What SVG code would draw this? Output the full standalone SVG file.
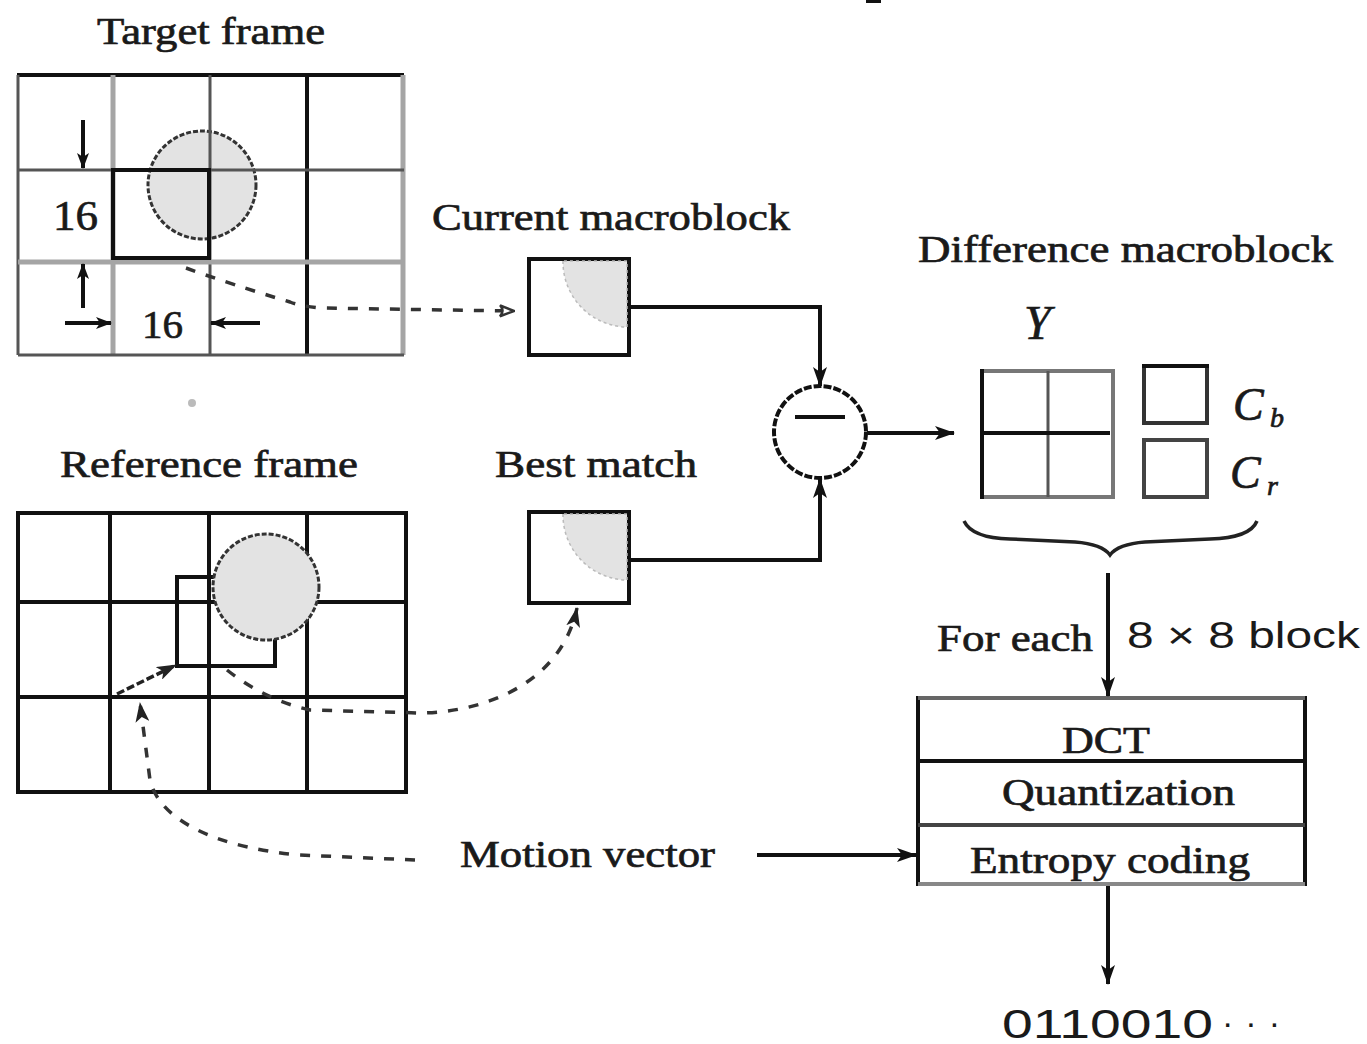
<svg xmlns="http://www.w3.org/2000/svg" width="1367" height="1044" viewBox="0 0 1367 1044">
<style>
.t{font-family:"Liberation Serif","Times New Roman",serif;font-size:38px;fill:#1a1a1a;stroke:#1a1a1a;stroke-width:0.7}
.s{font-family:"Liberation Sans",Arial,sans-serif;fill:#1a1a1a}
.it{font-style:italic}
.k{stroke:#111;stroke-width:4;fill:none}
.g{stroke:#a5a5a5;stroke-width:5;fill:none}
.d{stroke:#555;stroke-width:3;fill:none}
.blob{fill:#e3e3e3;stroke:#333;stroke-width:3;stroke-dasharray:5 2}
.q{fill:#e3e3e3;stroke:#bbb;stroke-width:1.5;stroke-dasharray:3 3}
.dash{stroke:#333;stroke-width:3.5;fill:none;stroke-dasharray:10 11}
.line{stroke:#111;stroke-width:4;fill:none}
</style>
<defs>
<marker id="ah" viewBox="0 0 20 14" refX="19" refY="7" markerWidth="20" markerHeight="14" markerUnits="userSpaceOnUse" orient="auto">
<path d="M0,0 L20,7 L0,14 L5,7 z" fill="#111"/>
</marker>
<marker id="sh" viewBox="0 0 16 12" refX="15" refY="6" markerWidth="16" markerHeight="12" markerUnits="userSpaceOnUse" orient="auto">
<path d="M0,0 L16,6 L0,12 L4,6 z" fill="#111"/>
</marker>
<marker id="oh" viewBox="0 0 16 14" refX="15" refY="7" markerWidth="16" markerHeight="14" markerUnits="userSpaceOnUse" orient="auto">
<path d="M1,1.5 L15,7 L1,12.5 Q6,7 1,1.5 z" fill="#fff" stroke="#333" stroke-width="2.5"/>
</marker>
<marker id="dh" viewBox="0 0 20 14" refX="19" refY="7" markerWidth="20" markerHeight="14" markerUnits="userSpaceOnUse" orient="auto">
<path d="M0,0 L20,7 L0,14 L5,7 z" fill="#222"/>
</marker>
</defs>

<rect x="866" y="0" width="15" height="3" fill="#111"/>
<circle cx="192" cy="403" r="4" fill="#bbb"/>

<g id="target-frame">
<text class="t" x="97" y="44" textLength="228" lengthAdjust="spacingAndGlyphs">Target frame</text>
<circle class="blob" cx="202" cy="185" r="54"/>
<line class="k" x1="17" y1="75" x2="404" y2="75"/>
<line class="d" x1="18" y1="75" x2="18" y2="355" stroke="#888"/>
<line class="g" x1="113" y1="75" x2="113" y2="355"/>
<line class="d" x1="210" y1="75" x2="210" y2="355" stroke="#333"/>
<line class="k" x1="307" y1="75" x2="307" y2="355"/>
<line class="g" x1="403" y1="75" x2="403" y2="355"/>
<line class="d" x1="18" y1="170" x2="404" y2="170" stroke="#444"/>
<line class="g" x1="18" y1="262" x2="404" y2="262"/>
<line class="d" x1="18" y1="355" x2="404" y2="355" stroke="#333" stroke-width="3.5"/>
<rect class="k" x="113" y="170" width="96" height="88"/>
<line class="line" x1="83" y1="120" x2="83" y2="168" marker-end="url(#sh)"/>
<line class="line" x1="83" y1="308" x2="83" y2="264" marker-end="url(#sh)"/>
<line class="line" x1="65" y1="323" x2="111" y2="323" marker-end="url(#sh)"/>
<line class="line" x1="260" y1="323" x2="211" y2="323" marker-end="url(#sh)"/>
<text class="t" x="53" y="230" style="font-size:42px" textLength="45" lengthAdjust="spacingAndGlyphs">16</text>
<text class="t" x="142" y="338" style="font-size:40px" textLength="41" lengthAdjust="spacingAndGlyphs">16</text>
</g>

<g id="reference-frame">
<text class="t" x="60" y="477" textLength="298" lengthAdjust="spacingAndGlyphs">Reference frame</text>
<rect class="k" x="18" y="513" width="388" height="279"/>
<line class="k" x1="110" y1="513" x2="110" y2="792"/>
<line class="k" x1="209" y1="513" x2="209" y2="792"/>
<line class="k" x1="307" y1="513" x2="307" y2="792"/>
<line class="k" x1="18" y1="602" x2="406" y2="602"/>
<line class="k" x1="18" y1="697" x2="406" y2="697"/>
<rect class="k" x="177" y="577" width="98" height="89"/>
<circle class="blob" cx="266" cy="587" r="53"/>
<line x1="117" y1="694" x2="176" y2="665" stroke="#222" stroke-width="3.5" stroke-dasharray="8 3" marker-end="url(#dh)"/>
</g>

<g id="current-macroblock">
<text class="t" x="432" y="230" textLength="358" lengthAdjust="spacingAndGlyphs">Current macroblock</text>
<rect class="k" x="529" y="259" width="100" height="96"/>
<path class="q" d="M563,261 A65,65 0 0 0 627,327 L627,261 Z"/>
</g>

<g id="best-match">
<text class="t" x="495" y="477" textLength="202" lengthAdjust="spacingAndGlyphs">Best match</text>
<rect class="k" x="529" y="512" width="100" height="91"/>
<path class="q" d="M563,514 A65,65 0 0 0 627,580 L627,514 Z"/>
</g>

<g id="subtractor">
<circle cx="820" cy="432" r="46" fill="#fff" stroke="#111" stroke-width="4" stroke-dasharray="8 2"/>
<line x1="795" y1="417" x2="845" y2="417" stroke="#111" stroke-width="4"/>
</g>

<g id="difference-macroblock">
<text class="t" x="918" y="262" textLength="415" lengthAdjust="spacingAndGlyphs">Difference macroblock</text>
<text class="t it" x="1024" y="339" style="font-size:48px">Y</text>
<rect x="982" y="371" width="131" height="126" fill="none" stroke="#777" stroke-width="4"/>
<line class="k" x1="982" y1="369" x2="982" y2="499"/>
<line x1="1048" y1="371" x2="1048" y2="497" stroke="#555" stroke-width="3"/>
<line class="k" x1="982" y1="433" x2="1110" y2="433"/>
<rect x="1144" y="366" width="63" height="57" fill="none" stroke="#333" stroke-width="4"/>
<line class="k" x1="1142" y1="366" x2="1209" y2="366"/>
<rect x="1144" y="440" width="63" height="57" fill="none" stroke="#444" stroke-width="4"/>
<text class="t it" x="1233" y="420" style="font-size:46px">C</text>
<text class="t it" x="1270" y="427" style="font-size:28px">b</text>
<text class="t it" x="1230" y="488" style="font-size:46px">C</text>
<text class="t it" x="1267" y="495" style="font-size:28px">r</text>
<path d="M964,521 Q972,538 1010,539 L1075,542 Q1102,544 1110,555 Q1118,544 1145,542 L1210,539 Q1250,538 1257,521" fill="none" stroke="#222" stroke-width="3.5"/>
</g>

<g id="coder">
<rect x="918" y="698" width="387" height="186" fill="none" stroke="#111" stroke-width="4"/>
<line x1="918" y1="698" x2="1305" y2="698" stroke="#666" stroke-width="4"/>
<line x1="918" y1="884" x2="1305" y2="884" stroke="#888" stroke-width="4"/>
<line class="k" x1="918" y1="761" x2="1305" y2="761"/>
<line x1="918" y1="825" x2="1305" y2="825" stroke="#444" stroke-width="4"/>
<text class="t" x="1062" y="753" textLength="88" lengthAdjust="spacingAndGlyphs">DCT</text>
<text class="t" x="1002" y="805" textLength="233" lengthAdjust="spacingAndGlyphs">Quantization</text>
<text class="t" x="970" y="873" textLength="280" lengthAdjust="spacingAndGlyphs">Entropy coding</text>
</g>

<g id="labels">
<text class="t" x="937" y="651" textLength="156" lengthAdjust="spacingAndGlyphs">For each</text>
<text class="s" x="1127" y="648" font-size="36" textLength="233" lengthAdjust="spacingAndGlyphs">8 × 8 block</text>
<text class="t" x="460" y="867" textLength="255" lengthAdjust="spacingAndGlyphs">Motion vector</text>
<text class="s" x="1002" y="1038" font-size="40" textLength="211" lengthAdjust="spacingAndGlyphs">0110010</text>
<text class="s" x="1222" y="1034" font-size="34" textLength="58" lengthAdjust="spacing">···</text>
</g>

<g id="connectors">
<path class="dash" d="M186,268 Q230,284 290,302 Q300,306 320,308 L514,311" marker-end="url(#oh)"/>
<path class="line" d="M630,307 L820,307 L820,386" marker-end="url(#ah)"/>
<path class="line" d="M630,560 L820,560 L820,479" marker-end="url(#ah)"/>
<line class="line" x1="867" y1="433" x2="954" y2="433" marker-end="url(#ah)"/>
<line class="line" x1="1108" y1="573" x2="1108" y2="696" marker-end="url(#ah)"/>
<line class="line" x1="1108" y1="886" x2="1108" y2="984" marker-end="url(#ah)"/>
<line class="line" x1="757" y1="855" x2="916" y2="855" marker-end="url(#ah)"/>
<path class="dash" d="M227,670 Q265,700 310,710 L420,713 C490,712 562,680 577,608" marker-end="url(#dh)"/>
<path class="dash" d="M415,860 L300,855 C220,848 160,822 150,780 L140,703" marker-end="url(#dh)"/>
</g>
</svg>
